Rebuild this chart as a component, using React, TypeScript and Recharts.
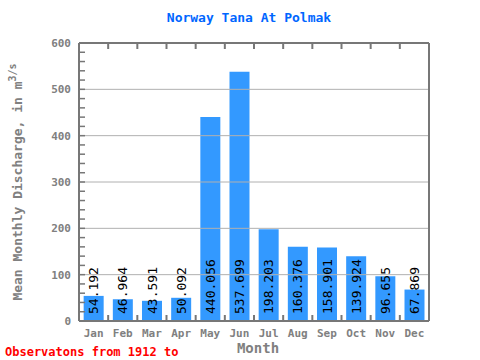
import { Bar, BarChart, LabelList, ReferenceLine, XAxis, YAxis } from 'recharts';

const months = ['Jan', 'Feb', 'Mar', 'Apr', 'May', 'Jun', 'Jul', 'Aug', 'Sep', 'Oct', 'Nov', 'Dec'];
const discharge = [54.192, 46.964, 43.591, 50.092, 440.056, 537.699, 198.203, 160.376, 158.901, 139.924, 96.655, 67.869];
const yTicks = [0, 20, 40, 60, 80, 100, 120, 140, 160, 180, 200, 220, 240, 260, 280, 300, 320, 340, 360, 380, 400, 420, 440, 460, 480, 500, 520, 540, 560, 580, 600];
const gridLines = [100, 200, 300, 400, 500];

const chartTitle = 'Norway Tana At Polmak';
const xTitle = 'Month';
const footnote = 'Observatons from 1912 to';

const data = months.map((month, i) => ({ month, value: discharge[i] }));

const MONO = '"DejaVu Sans Mono", monospace';
const AXIS = '#777777';
const BAND = 350 / 12;

function BottomTick({ x, y, payload, index }: any) {
  const base = y - 8;
  return (
    <g>
      {index > 0 && (
        <line x1={x - BAND / 2} x2={x - BAND / 2} y1={base} y2={base - 6} stroke={AXIS} strokeWidth={2} />
      )}
      <text x={x} y={y + 8} textAnchor="middle" fontFamily={MONO} fontSize={11} fontWeight="bold" fill="#808080">
        {payload.value}
      </text>
    </g>
  );
}

function TopTick({ x, y, index }: any) {
  const base = y + 8;
  if (index === 0) return <g />;
  return <line x1={x - BAND / 2} x2={x - BAND / 2} y1={base} y2={base + 6} stroke={AXIS} strokeWidth={2} />;
}

function LeftTick({ x, y, payload }: any) {
  const edge = x + 8;
  const major = payload.value % 100 === 0;
  return (
    <g>
      {payload.value > 0 && payload.value < 600 && (
        <line x1={edge} x2={edge + 6} y1={y} y2={y} stroke={AXIS} strokeWidth={1.5} />
      )}
      {major && (
        <text x={x} y={y} dy="0.35em" textAnchor="end" fontFamily={MONO} fontSize={11} fontWeight="bold" fill="#808080">
          {payload.value}
        </text>
      )}
    </g>
  );
}

function RightTick({ x, y, payload }: any) {
  const edge = x - 8;
  if (payload.value <= 0 || payload.value >= 600) return <g />;
  return <line x1={edge} x2={edge - 6} y1={y} y2={y} stroke={AXIS} strokeWidth={1.5} />;
}

function ValueLabel({ x, y, width, height, value }: any) {
  const cx = x + width / 2;
  const by = y + height - 7;
  return (
    <text
      x={cx}
      y={by}
      transform={`rotate(-90 ${cx} ${by})`}
      textAnchor="start"
      dominantBaseline="central"
      fontFamily={MONO}
      fontSize={13}
      fill="#000000"
    >
      {value.toFixed(3)}
    </text>
  );
}

export default function App() {
  return (
    <div style={{ position: 'absolute', left: 0, top: 0, width: 480, height: 360, background: '#fff' }}>
      <BarChart width={480} height={360} data={data} margin={{ top: 0, right: 0, bottom: 0, left: 0 }} barCategoryGap="16%">
        <XAxis
          xAxisId="bottom"
          dataKey="month"
          height={39}
          interval={0}
          tickLine={false}
          axisLine={{ stroke: AXIS, strokeWidth: 2 }}
          tick={<BottomTick />}
        />
        <XAxis
          xAxisId="top"
          orientation="top"
          dataKey="month"
          height={43}
          interval={0}
          tickLine={false}
          axisLine={{ stroke: AXIS, strokeWidth: 2 }}
          tick={<TopTick />}
        />
        <YAxis
          yAxisId="left"
          width={79}
          domain={[0, 600]}
          ticks={yTicks}
          interval={0}
          tickLine={false}
          axisLine={{ stroke: AXIS, strokeWidth: 2 }}
          tick={<LeftTick />}
        />
        <YAxis
          yAxisId="right"
          orientation="right"
          width={51}
          domain={[0, 600]}
          ticks={yTicks}
          interval={0}
          tickLine={false}
          axisLine={{ stroke: AXIS, strokeWidth: 2 }}
          tick={<RightTick />}
        />
        <Bar dataKey="value" xAxisId="bottom" yAxisId="left" fill="#3399ff" isAnimationActive={false}>
          <LabelList dataKey="value" content={<ValueLabel />} />
        </Bar>
        {gridLines.map((v) => (
          <ReferenceLine key={v} y={v} xAxisId="bottom" yAxisId="left" stroke="#b0b0b0" strokeWidth={1} />
        ))}
      </BarChart>
      <svg width={480} height={360} style={{ position: 'absolute', left: 0, top: 0, pointerEvents: 'none' }}>
        <text x={249} y={22} textAnchor="middle" fontFamily={MONO} fontSize={13} fontWeight="bold" fill="#0066ff">
          {chartTitle}
        </text>
        <text
          x={17}
          y={182}
          transform="rotate(-90 17 182)"
          textAnchor="middle"
          dominantBaseline="central"
          fontFamily={MONO}
          fontSize={13}
          fontWeight="bold"
          fill="#808080"
        >
          Mean Monthly Discharge, in m
          <tspan dy={-5} fontSize={10}>3/s</tspan>
        </text>
        <text x={258} y={353} textAnchor="middle" fontFamily={MONO} fontSize={14} fontWeight="bold" fill="#808080">
          {xTitle}
        </text>
        <text x={5} y={356} fontFamily={MONO} fontSize={12} fontWeight="bold" fill="#ff0000">
          {footnote}
        </text>
      </svg>
    </div>
  );
}
